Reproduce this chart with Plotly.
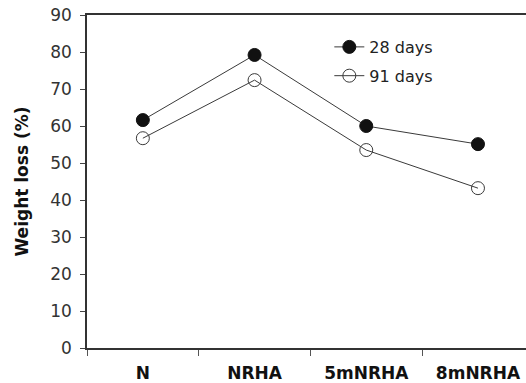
import plotly.graph_objects as go

categories = ["N", "NRHA", "5mNRHA", "8mNRHA"]
days28 = [61.6, 79.2, 60.0, 55.1]
days91 = [56.7, 72.4, 53.5, 43.2]
y_ticks = [0, 10, 20, 30, 40, 50, 60, 70, 80, 90]

LINE = "#3a3a3a"
FONT = "DejaVu Sans"

fig = go.Figure()
fig.add_trace(go.Scatter(
    x=categories, y=days28, name="28 days", mode="lines+markers", legendgroup="a",
    line=dict(color=LINE, width=1),
    marker=dict(symbol="circle", size=13, color="#111111", line=dict(color="#111111", width=1)),
))
fig.add_trace(go.Scatter(
    x=categories, y=days91, name="91 days", mode="lines+markers", legendgroup="b",
    line=dict(color=LINE, width=1),
    marker=dict(symbol="circle-open", size=13, color=LINE, line=dict(color=LINE, width=1)),
))

fig.update_layout(
    width=526, height=383,
    margin=dict(l=87, r=0, t=15, b=35),
    paper_bgcolor="white", plot_bgcolor="white",
    font=dict(family=FONT, color="#1a1a1a"),
    showlegend=True,
    legend=dict(
        x=0.552, y=0.955, xanchor="left", yanchor="top",
        bgcolor="rgba(0,0,0,0)", borderwidth=0,
        font=dict(family=FONT, size=16, color="#222222"),
        tracegroupgap=5, itemwidth=30,
    ),
    xaxis=dict(
        type="category", range=[-0.5, 3.43],
        showline=True, linecolor="#333333", linewidth=1.5, mirror=True,
        ticks="outside", ticklen=6, tickcolor="#555555", tickwidth=1,
        tickson="boundaries", ticklabelstandoff=9,
        showgrid=False, zeroline=False,
        tickfont=dict(family=FONT, size=17, color="#111111", weight="bold"),
    ),
    yaxis=dict(
        range=[0, 90], tickvals=y_ticks, ticktext=[str(v) for v in y_ticks],
        showline=True, linecolor="#333333", linewidth=1.5, mirror=False,
        ticks="outside", ticklen=5, tickcolor="#444444", tickwidth=1,
        ticklabelstandoff=5,
        showgrid=False, zeroline=False,
        tickfont=dict(family=FONT, size=17, color="#333333"),
        title=dict(text="Weight loss (%)", standoff=17,
                   font=dict(family=FONT, size=17, color="#111111", weight="bold")),
    ),
)

fig.write_html("out.html")
